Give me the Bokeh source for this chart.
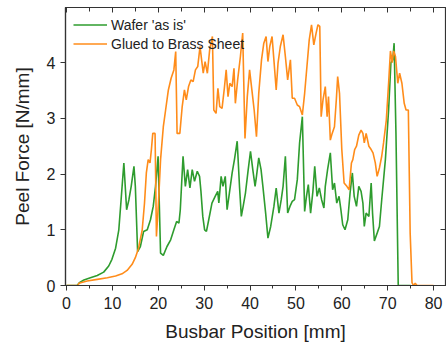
from bokeh.plotting import figure
from bokeh.models import Range1d, LinearAxis, SingleIntervalTicker
from bokeh.embed import file_html
from bokeh.resources import INLINE

# Wafer 'as is'
wafer_x = [0, 2.3, 2.8, 3.8, 5.2, 6.7, 8.1, 9.2, 9.9, 10.7,
           11.4, 11.9, 12.5, 13.1, 13.6, 14.1, 14.7, 15.0, 15.5, 16.1,
           16.8, 17.6, 18.3, 18.9, 19.4, 19.96, 20.5, 21.1, 21.9, 22.7,
           23.4, 24.0, 24.5, 24.8, 25.4, 25.9, 26.4, 26.9, 27.4, 27.9,
           28.5, 29.0, 29.3, 29.7, 30.1, 30.5, 31.0, 31.7, 32.4, 32.96,
           33.2, 33.7, 34.1, 34.6, 35.0, 35.5, 36.1, 36.6, 37.2, 37.7,
           38.1, 38.5, 39.0, 39.6, 40.1, 40.6, 41.1, 41.4, 41.9, 42.4,
           42.8, 43.4, 43.9, 44.5, 45.2, 45.7, 46.3, 46.8, 47.2, 47.7,
           48.2, 48.7, 49.2, 49.7, 50.3, 50.8, 51.4, 51.9, 52.3, 52.7,
           53.2, 53.7, 54.1, 54.6, 55.1, 55.6, 56.1, 56.4, 56.9, 57.5,
           58.0, 58.4, 58.9, 59.4, 59.8, 60.2, 60.7, 61.3, 61.8, 62.3,
           62.7, 63.2, 63.7, 64.2, 64.6, 64.9, 65.3, 65.9, 66.4, 66.7,
           67.1, 67.7, 68.2, 68.7, 69.5, 70.2, 70.7, 71.1, 71.4, 71.8,
           72.3, 75.0]
wafer_y = [0, 0, 0.05, 0.1, 0.14, 0.18, 0.24, 0.35, 0.47, 0.67,
           1.0, 1.54, 2.2, 1.36, 1.54, 1.78, 2.14, 1.78, 0.61, 0.7,
           0.97, 1.0, 1.18, 1.42, 1.78, 2.32, 0.58, 0.54, 0.7, 0.82,
           1.0, 1.15, 1.12, 1.36, 2.32, 1.78, 2.08, 1.75, 2.08, 1.87,
           2.05, 1.96, 1.69, 1.24, 1.0, 0.97, 1.18, 1.48, 1.6, 1.69,
           1.48, 1.96, 1.78, 1.96, 1.36, 1.66, 2.02, 2.26, 2.59, 1.78,
           1.24, 1.42, 1.66, 2.08, 2.41, 2.08, 1.78, 1.96, 2.29, 2.08,
           1.78, 1.3, 0.85, 1.06, 1.42, 1.75, 1.3, 1.54, 1.78, 2.32,
           1.3, 1.42, 1.51, 1.54, 1.9, 2.56, 3.03, 1.33, 1.6, 1.81,
           1.3, 1.69, 2.14, 1.6, 1.75, 1.54, 1.39, 1.78, 2.08, 2.38,
           1.72, 1.84, 1.48, 1.6, 1.36, 1.09, 1.0, 1.18, 1.66, 2.02,
           1.6, 1.42, 1.78, 1.69, 1.48, 1.06, 1.3, 1.24, 1.84, 1.3,
           0.8, 0.94, 1.06, 1.54, 2.26, 3.15, 4.0, 4.05, 4.35, 2.74,
           0, 0]

# Glued to Brass Sheet
brass_x = [0, 2.5, 2.7, 4.5, 6.7, 8.9, 10.7, 12.1, 13.2, 14.3,
           15.0, 15.7, 16.5, 17.0, 17.4, 17.8, 18.2, 18.5, 18.8, 19.3,
           19.6, 20.0, 20.5, 21.1, 21.6, 22.2, 22.8, 23.4, 23.8, 24.1,
           24.7, 25.2, 25.7, 26.1, 26.6, 27.1, 27.6, 28.1, 28.6, 29.1,
           29.4, 29.8, 30.2, 30.7, 31.2, 31.8, 32.1, 32.6, 33.0, 33.4,
           33.9, 34.4, 34.8, 35.2, 35.6, 36.1, 36.5, 36.8, 37.3, 37.9,
           38.4, 38.9, 39.4, 39.9, 40.4, 40.9, 41.4, 41.9, 42.5, 43.0,
           43.5, 43.9, 44.3, 44.8, 45.2, 45.7, 46.1, 46.6, 47.2, 47.7,
           48.2, 48.8, 49.2, 49.7, 50.3, 50.8, 51.4, 51.9, 52.4, 52.9,
           53.4, 53.9, 54.4, 54.8, 55.2, 55.5, 55.9, 56.4, 56.8, 57.1,
           57.5, 57.9, 58.4, 58.8, 59.1, 59.5, 60.0, 60.5, 61.1, 61.6,
           62.1, 62.4, 62.8, 63.2, 63.7, 64.2, 64.6, 64.9, 65.3, 65.9,
           66.4, 66.8, 67.3, 67.7, 68.2, 68.7, 69.1, 69.7, 70.2, 70.6,
           71.0, 71.3, 71.7, 72.2, 72.6, 73.1, 73.6, 74.0, 74.5, 74.9,
           75.3, 75.6, 76.0, 76.4, 80.0]
brass_y = [0, 0, 0.04, 0.08, 0.11, 0.14, 0.17, 0.21, 0.27, 0.38,
           0.5, 0.67, 1.0, 1.48, 2.02, 2.26, 2.2, 2.44, 2.73, 2.73,
           0.88, 1.42, 2.26, 2.85, 3.15, 3.51, 3.72, 3.87, 4.2, 2.73,
           2.73, 3.2, 3.51, 3.33, 3.57, 3.69, 3.66, 3.87, 3.93, 4.29,
           4.08, 3.81, 4.02, 3.81, 4.23, 4.47, 3.15, 3.09, 3.54, 3.21,
           3.18, 3.54, 3.87, 3.39, 3.63, 3.57, 3.9, 3.27, 3.69, 4.11,
           4.53, 2.64, 3.39, 3.87, 3.51, 3.15, 2.67, 3.45, 4.05, 4.35,
           4.47, 4.02, 4.29, 4.47, 4.05, 3.51, 3.99, 4.29, 4.5, 4.11,
           3.69, 4.05, 3.36, 3.36, 3.24, 3.21, 3.06, 3.45, 3.93, 4.41,
           4.68, 4.32, 4.53, 4.68, 4.65, 3.03, 3.33, 3.57, 3.03, 3.39,
           2.61, 2.73, 2.85, 3.33, 3.75, 3.45, 2.44, 1.84, 1.78, 1.72,
           2.2, 2.26, 2.44, 2.5, 2.7, 2.79, 2.73, 2.56, 2.73, 2.5,
           2.44, 2.38, 2.2, 1.96, 2.11, 2.32, 2.56, 2.97, 3.63, 4.21,
           4.0, 4.21, 4.11, 3.63, 3.81, 3.63, 3.27, 3.15, 3.15, 0.94,
           0.05, 0, 0.04, 0, 0]

series_labels = ["Wafer 'as is'", "Glued to Brass Sheet"]
x_label = "Busbar Position [mm]"
y_label = "Peel Force [N/mm]"

FONT = "Liberation Sans"
GREEN = "#2e9c2e"
ORANGE = "#ff8c1a"
DARK = "#333333"

p = figure(width=446, height=344, output_backend="svg", toolbar_location=None,
           x_range=Range1d(-0.22, 82.6), y_range=Range1d(0, 4.99),
           min_border_left=65, min_border_right=1, min_border_top=7,
           min_border_bottom=58)
p.xgrid.visible = False
p.ygrid.visible = False
p.outline_line_color = DARK
p.outline_line_width = 1.2
p.background_fill_color = "white"
p.border_fill_color = "white"

p.line(wafer_x, wafer_y, line_color=GREEN, line_width=1.6, legend_label=series_labels[0])
p.line(brass_x, brass_y, line_color=ORANGE, line_width=1.6, legend_label=series_labels[1])

for ax in p.xaxis:
    ax.ticker = SingleIntervalTicker(interval=10, num_minor_ticks=2)
    ax.axis_label = x_label
for ax in p.yaxis:
    ax.ticker = SingleIntervalTicker(interval=1, num_minor_ticks=0)
    ax.axis_label = y_label

for ax in list(p.xaxis) + list(p.yaxis):
    ax.axis_line_color = DARK
    ax.axis_line_width = 1.2
    ax.major_tick_line_color = DARK
    ax.minor_tick_line_color = DARK
    ax.major_tick_in = 0
    ax.major_tick_out = 5
    ax.minor_tick_in = 0
    ax.minor_tick_out = 3
    ax.major_label_text_font = FONT
    ax.major_label_text_font_size = "16px"
    ax.major_label_text_color = "#222222"
    ax.axis_label_text_font = FONT
    ax.axis_label_text_font_size = "19px"
    ax.axis_label_text_font_style = "normal"
    ax.axis_label_text_color = "#222222"
p.xaxis.major_label_standoff = 6
p.xaxis.axis_label_standoff = 9
p.yaxis.major_label_standoff = 5
p.yaxis.axis_label_standoff = 11

x_ticks_all = list(range(0, 85, 5))
y_ticks_all = [0, 1, 2, 3, 4]

top = LinearAxis(ticker=SingleIntervalTicker(interval=10, num_minor_ticks=2),
                 major_label_overrides={v: "" for v in x_ticks_all},
                 major_label_text_font_size="1px", major_label_standoff=0,
                 major_tick_in=5, major_tick_out=0, minor_tick_in=4, minor_tick_out=0,
                 axis_line_color=DARK, major_tick_line_color=DARK, minor_tick_line_color=DARK)
p.add_layout(top, "above")
right = LinearAxis(ticker=SingleIntervalTicker(interval=1, num_minor_ticks=0),
                   major_label_overrides={v: "" for v in y_ticks_all},
                   major_label_text_font_size="1px", major_label_standoff=0,
                   major_tick_in=5, major_tick_out=0, minor_tick_in=0, minor_tick_out=0,
                   axis_line_color=DARK, major_tick_line_color=DARK)
p.add_layout(right, "right")

lg = p.legend[0]
lg.location = "top_left"
lg.margin = 5
lg.padding = 3
lg.spacing = 0
lg.border_line_alpha = 0
lg.background_fill_alpha = 0
lg.label_text_font = FONT
lg.label_text_font_size = "14px"
lg.label_text_color = "#222222"
lg.glyph_width = 34
lg.glyph_height = 19
lg.label_height = 19
lg.label_standoff = 4

open("out.html", "w").write(file_html(p, INLINE))
